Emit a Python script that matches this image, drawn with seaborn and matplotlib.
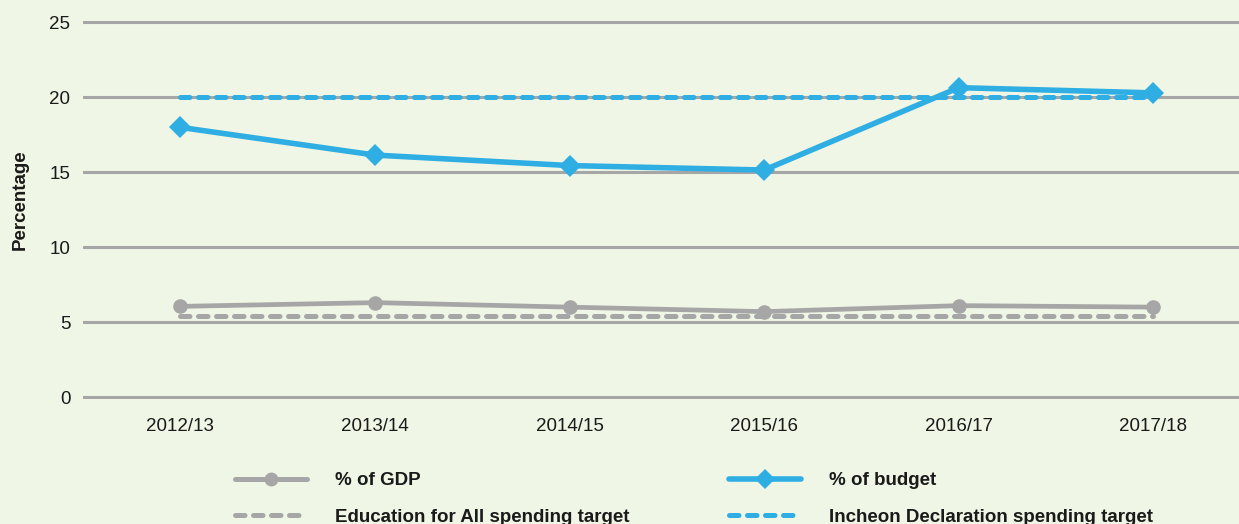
import matplotlib
matplotlib.use("Agg")
import matplotlib.pyplot as plt
import seaborn as sns
import pandas as pd
from matplotlib.lines import Line2D

years = ["2012/13", "2013/14", "2014/15", "2015/16", "2016/17", "2017/18"]
pct_gdp = [6.05, 6.3, 6.0, 5.7, 6.1, 6.0]
pct_budget = [18.0, 16.15, 15.45, 15.15, 20.65, 20.3]
efa_target = [5.4, 5.4, 5.4, 5.4, 5.4, 5.4]
incheon_target = [20, 20, 20, 20, 20, 20]
yticks = [0, 5, 10, 15, 20, 25]

BG = "#EFF6E5"
GRAY = "#A6A6A6"
BLUE = "#2EAEE3"

sns.set_theme(style="white")
plt.rcParams["font.family"] = ["Liberation Sans", "DejaVu Sans"]

df = pd.DataFrame({"year": years, "gdp": pct_gdp, "budget": pct_budget,
                   "efa": efa_target, "incheon": incheon_target})

fig = plt.figure(figsize=(12.39, 5.24), dpi=100, facecolor=BG)
ax = fig.add_axes([83/1239, 1 - 398.5/524, 1 - 83/1239, (398.5 - 21)/524])
ax.set_facecolor(BG)

dash = (1.9, 1.7)
DLW = 3.6
sns.lineplot(data=df, x="year", y="efa", ax=ax, color=GRAY, lw=DLW,
             sort=False, zorder=3)
ax.lines[-1].set_dashes(dash)
ax.lines[-1].set_dash_capstyle("round")
sns.lineplot(data=df, x="year", y="incheon", ax=ax, color=BLUE, lw=DLW,
             sort=False, zorder=3)
ax.lines[-1].set_dashes(dash)
ax.lines[-1].set_dash_capstyle("round")
sns.lineplot(data=df, x="year", y="gdp", ax=ax, color=GRAY, lw=3.4,
             marker="o", markersize=10.5, markeredgewidth=0, sort=False, zorder=4)
sns.lineplot(data=df, x="year", y="budget", ax=ax, color=BLUE, lw=4.0,
             marker="D", markersize=11, markeredgewidth=0, sort=False, zorder=5)

ax.set_xlim(-0.5, 5.44)
ax.set_ylim(-0.1, 25.1)
ax.set_yticks(yticks)
ax.grid(axis="y", color=GRAY, lw=2.2, zorder=0)
ax.grid(axis="x", visible=False)
for s in ax.spines.values():
    s.set_visible(False)
ax.tick_params(axis="both", length=0, labelsize=13.5, colors="#1a1a1a")
ax.tick_params(axis="x", pad=14)
ax.tick_params(axis="y", pad=9)
ax.set_xlabel("")
ax.set_ylabel("Percentage", fontsize=13.5, fontweight="bold", labelpad=15, color="#1a1a1a")
ax.yaxis.label.set_y((398.5 - 200) / 377.5)

handles = [
    Line2D([], [], color=GRAY, lw=3.6, marker="o", markersize=10, markeredgewidth=0,
           solid_capstyle="round"),
    Line2D([], [], color=GRAY, lw=DLW, dashes=dash, dash_capstyle="round"),
    Line2D([], [], color=BLUE, lw=4.0, marker="D", markersize=10, markeredgewidth=0,
           solid_capstyle="round"),
    Line2D([], [], color=BLUE, lw=DLW, dashes=dash, dash_capstyle="round"),
]
labels = ["% of GDP", "Education for All spending target",
          "% of budget", "Incheon Declaration spending target"]
leg = fig.legend(handles, labels, ncol=2, loc="lower left",
                 bbox_to_anchor=(218/1239, -0.036), frameon=False,
                 prop={"size": 13.5, "weight": "bold"}, handlelength=3.85,
                 handletextpad=1.5, columnspacing=5.3, labelspacing=1.05)
for t in leg.get_texts():
    t.set_color("#1a1a1a")

fig.savefig("out.png", dpi=100, facecolor=BG)
